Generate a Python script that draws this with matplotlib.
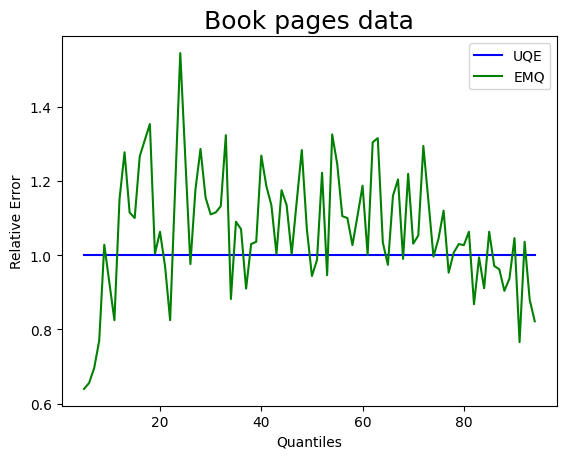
import matplotlib
matplotlib.use("Agg")
import matplotlib.pyplot as plt
import numpy as np

# quantiles 5..94
quantiles = list(range(5, 95))

uqe = [1.0] * len(quantiles)

emq = [
    0.640, 0.656, 0.696, 0.770, 1.028, 0.926, 0.825, 1.150, 1.277, 1.115,  # 5-14
    1.100, 1.266, 1.310, 1.353, 1.004, 1.063, 0.970, 0.825, 1.185, 1.544,  # 15-24
    1.260, 0.976, 1.177, 1.286, 1.155, 1.110, 1.115, 1.132, 1.323, 0.882,  # 25-34
    1.090, 1.070, 0.910, 1.030, 1.036, 1.268, 1.186, 1.134, 1.003, 1.175,  # 35-44
    1.135, 1.003, 1.145, 1.283, 1.070, 0.944, 0.987, 1.222, 0.946, 1.325,  # 45-54
    1.245, 1.105, 1.100, 1.027, 1.106, 1.187, 1.001, 1.304, 1.315, 1.034,  # 55-64
    0.974, 1.160, 1.204, 0.990, 1.219, 1.031, 1.053, 1.294, 1.146, 0.996,  # 65-74
    1.045, 1.120, 0.953, 1.007, 1.030, 1.027, 1.063, 0.868, 0.994, 0.911,  # 75-84
    1.063, 0.971, 0.962, 0.904, 0.937, 1.046, 0.766, 1.036, 0.880, 0.822,  # 85-94
]

fig = plt.figure(figsize=(5.67, 4.6), dpi=100)
ax = fig.add_axes([61.5 / 567, (460 - 406.7) / 460, 495.8 / 567, (406.7 - 37.3) / 460])

ax.plot(quantiles, uqe, color="blue", label="UQE")
ax.plot(quantiles, emq, color="green", label="EMQ")

ax.set_title("Book pages data", fontsize=18)
ax.set_xlabel("Quantiles")
ax.set_ylabel("Relative Error")
ax.set_xticks([20, 40, 60, 80])
ax.set_yticks([0.6, 0.8, 1.0, 1.2, 1.4])
ax.legend(loc="upper right")

fig.savefig("out.png", dpi=100)
